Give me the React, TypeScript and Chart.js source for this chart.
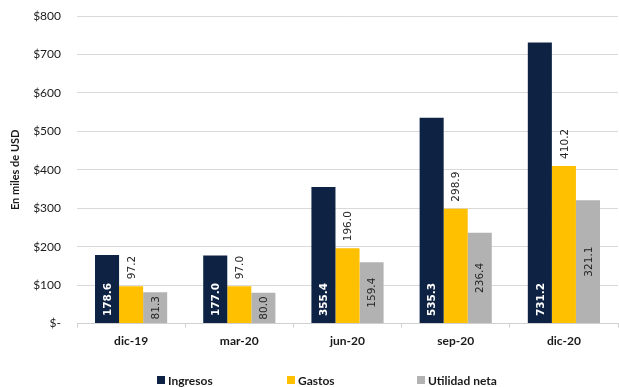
import React, { useEffect, useRef } from "react";
import { Chart, registerables } from "chart.js";

Chart.register(...registerables);

const categories = ["dic-19", "mar-20", "jun-20", "sep-20", "dic-20"];
const ingresos = [178.6, 177.0, 355.4, 535.3, 731.2];
const gastos = [97.2, 97.0, 196.0, 298.9, 410.2];
const utilidad = [81.3, 80.0, 159.4, 236.4, 321.1];
const seriesNames = ["Ingresos", "Gastos", "Utilidad neta"];
const seriesColors = ["#0E2343", "#FFC000", "#B2B2B2"];
const yTicks = [0, 100, 200, 300, 400, 500, 600, 700, 800];

const labelPlugin = {
  id: "barLabels",
  afterDatasetsDraw(chart: any) {
    const ctx = chart.ctx;
    chart.data.datasets.forEach((ds: any, di: number) => {
      const meta = chart.getDatasetMeta(di);
      meta.data.forEach((bar: any, i: number) => {
        const v = ds.data[i];
        const txt = v.toFixed(1);
        ctx.save();
        let px = bar.x;
        let py: number;
        let align: CanvasTextAlign = "left";
        if (di === 0) {
          ctx.font = "bold 10.5px 'DejaVu Sans'";
          ctx.fillStyle = "#ffffff";
          py = bar.base - 7;
        } else if (di === 1) {
          ctx.font = "10.5px 'DejaVu Sans'";
          ctx.fillStyle = "#262626";
          py = bar.y - 7;
        } else {
          ctx.font = "10.5px 'DejaVu Sans'";
          ctx.fillStyle = "#262626";
          py = (bar.y + bar.base) / 2;
          align = "center";
        }
        ctx.translate(px, py);
        ctx.rotate(-Math.PI / 2);
        ctx.textAlign = align;
        ctx.textBaseline = "middle";
        ctx.fillText(txt, 0, 1);
        ctx.restore();
      });
    });
  },
};

const legendPlugin = {
  id: "customLegend",
  afterDraw(chart: any) {
    const ctx = chart.ctx;
    const y = chart.height - 7;
    const startX = chart.chartArea.left + 80;
    const step = 130;
    chart.data.datasets.forEach((ds: any, i: number) => {
      const x = startX + i * step;
      ctx.save();
      ctx.fillStyle = ds.backgroundColor;
      ctx.fillRect(x, y - 4, 8, 8);
      ctx.fillStyle = "#1a1a1a";
      ctx.font = "bold 12px Lato";
      ctx.textAlign = "left";
      ctx.textBaseline = "middle";
      ctx.fillText(ds.label, x + 11, y + 1);
      ctx.restore();
    });
  },
};

export default function App() {
  const ref = useRef<HTMLCanvasElement>(null);
  useEffect(() => {
    document.body.style.margin = "0";
    const chart = new Chart(ref.current!, {
      type: "bar",
      data: {
        labels: categories,
        datasets: [ingresos, gastos, utilidad].map((d, i) => ({
          label: seriesNames[i],
          data: d,
          backgroundColor: seriesColors[i],
          borderWidth: 0,
          categoryPercentage: 0.667,
          barPercentage: 1,
        })),
      },
      options: {
        animation: false,
        responsive: false,
        layout: { padding: { top: 16, right: 1, bottom: 33, left: 9 } },
        plugins: { legend: { display: false }, tooltip: { enabled: false } },
        scales: {
          x: {
            grid: {
              offset: true,
              drawOnChartArea: false,
              color: "#d0d0d0",
              tickLength: 4,
            },
            border: { color: "#d0d0d0" },
            ticks: {
              color: "#1a1a1a",
              font: { family: "Lato", size: 12, weight: "bold" },
              padding: 6,
            },
          },
          y: {
            min: 0,
            max: 800,
            afterBuildTicks(scale: any) {
              scale.ticks = yTicks.map((v) => ({ value: v }));
            },
            afterFit(scale: any) {
              scale.width = 68;
              scale.paddingTop = 0;
              scale.paddingBottom = 0;
            },
            grid: { color: "#d9d9d9", drawTicks: false },
            border: { display: false },
            ticks: {
              color: "#1a1a1a",
              font: { family: "Lato", size: 12 },
              padding: 16,
              callback: (v: any) => (Number(v) === 0 ? "$-" : "$" + v),
            },
            title: {
              display: true,
              text: "En miles de USD",
              color: "#1a1a1a",
              font: { family: "Lato", size: 11, weight: "bold" },
              padding: 0,
            },
          },
        },
      },
      plugins: [labelPlugin, legendPlugin],
    });
    return () => chart.destroy();
  }, []);
  return <canvas ref={ref} width={619} height={387} style={{ display: "block" }} />;
}
